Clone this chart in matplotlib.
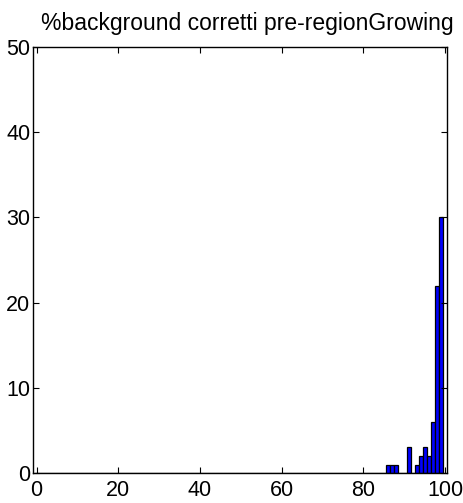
import numpy as np
import matplotlib
matplotlib.use("Agg")
import matplotlib.pyplot as plt

plt.rcParams["font.family"] = ["Liberation Sans", "DejaVu Sans"]

# histogram: 100 bins of width 1, left edge of bin k at k - 0.4
bin_edges = np.arange(101) - 0.4
counts = np.zeros(100)
nonzero_bins = [86, 87, 88, 91, 93, 94, 95, 96, 97, 98, 99]
nonzero_counts = [1, 1, 1, 3, 1, 2, 3, 2, 6, 22, 30]
counts[nonzero_bins] = nonzero_counts

x_ticks = [0, 20, 40, 60, 80, 100]
y_ticks = [0, 10, 20, 30, 40, 50]
title = "%background corretti pre-regionGrowing"

fig = plt.figure(figsize=(4.63, 5.03), dpi=100)
ax = fig.add_axes([0.0713, 0.0596, 0.8952, 0.847])

ax.bar(bin_edges[:-1], counts, width=np.diff(bin_edges), align="edge",
       color="#0000ff", edgecolor="black", linewidth=0.9)

ax.set_xlim(-0.9, 100.6)
ax.set_ylim(0, 50)
ax.set_xticks(x_ticks)
ax.set_yticks(y_ticks)
ax.tick_params(direction="in", length=4, width=0.8, labelsize=15.5,
               top=True, right=True)
ax.tick_params(axis="x", pad=5)
ax.tick_params(axis="y", pad=2)
for spine in ax.spines.values():
    spine.set_linewidth(1.0)
ax.set_title(title, fontsize=16.5, pad=12, x=0.517)

fig.savefig("out.png", dpi=100)
